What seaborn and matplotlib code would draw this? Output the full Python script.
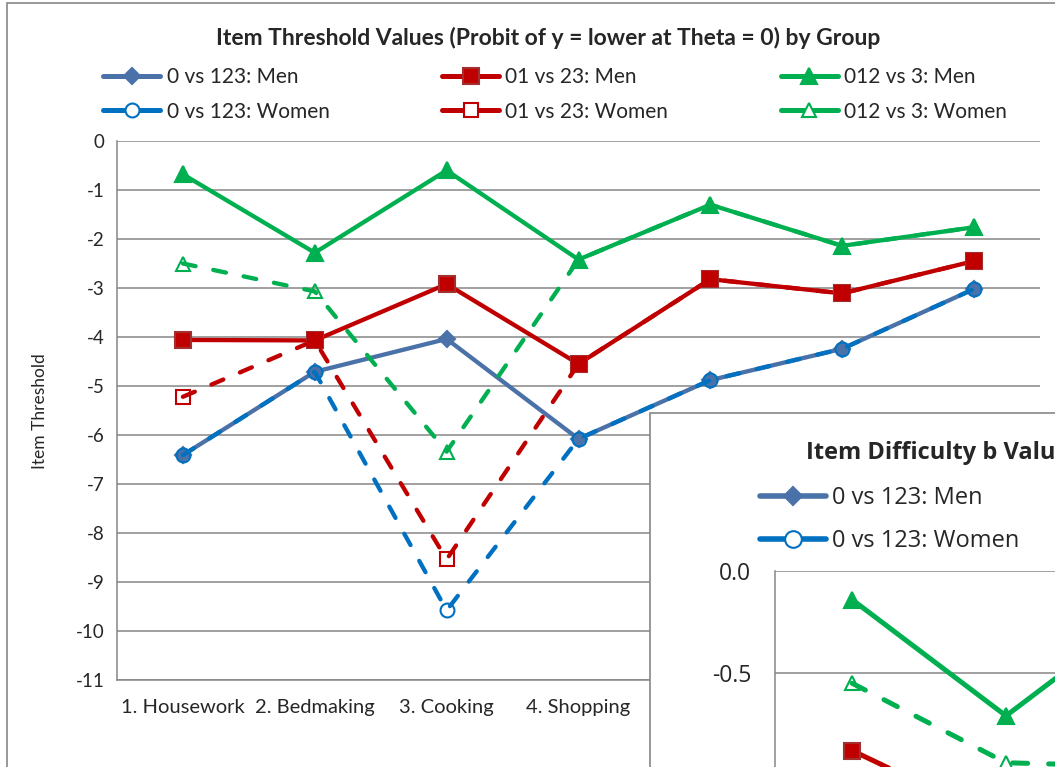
import numpy as np
import pandas as pd
import matplotlib.pyplot as plt
import seaborn as sns
from matplotlib.lines import Line2D
from matplotlib.patches import Rectangle

# Item thresholds (probit of y = lower at theta = 0)
items = ["1. Housework", "2. Bedmaking", "3. Cooking", "4. Shopping", "", "", ""]
men_0_123 = [-6.41, -4.71, -4.04, -6.08, -4.88, -4.24, -3.02]
women_0_123 = [-6.41, -4.71, -9.58, -6.08, -4.88, -4.24, -3.02]
men_01_23 = [-4.06, -4.07, -2.92, -4.55, -2.82, -3.11, -2.45]
women_01_23 = [-5.22, -4.07, -8.54, -4.55, -2.82, -3.11, -2.45]
men_012_3 = [-0.68, -2.28, -0.60, -2.42, -1.30, -2.14, -1.76]
women_012_3 = [-2.50, -3.07, -6.34, -2.42, -1.30, -2.14, -1.76]

# second chart pasted on top (only its top-left corner is visible)
b_men_012_3 = [-0.14, -0.71, -0.14]
b_women_012_3 = [-0.55, -0.94, -0.96]
b_men_01_23 = [-0.88, -1.24]

sns.set_style("white")
plt.rcParams['font.family'] = ['Lato', 'DejaVu Sans']
plt.rcParams['axes.unicode_minus'] = False

GRAY = '#868686'
BLUE_M, BLUE_W = '#4A72A8', '#0070C0'
RED, GREEN = '#C00000', '#00B050'
DASH = (0, (3.0, 4.2))

W, H = 1055, 767
def fx(px):
    return px / W
def fy(py):
    return 1 - py / H

styles = {
    '0 vs 123: Men': dict(color=BLUE_M, marker='D', ms=8, mfc=BLUE_M, mec=BLUE_M, ls='-'),
    '0 vs 123: Women': dict(color=BLUE_W, marker='o', ms=10, mfc='none', mec=BLUE_W, ls=DASH),
    '01 vs 23: Men': dict(color=RED, marker='s', ms=11, mfc=RED, mec='#A33030', ls='-'),
    '01 vs 23: Women': dict(color=RED, marker='s', ms=10, mfc='none', mec=RED, ls=DASH),
    '012 vs 3: Men': dict(color=GREEN, marker='^', ms=11, mfc=GREEN, mec=GREEN, ls='-'),
    '012 vs 3: Women': dict(color=GREEN, marker='^', ms=10, mfc='none', mec=GREEN, ls=DASH),
}
series = {
    '0 vs 123: Men': men_0_123, '01 vs 23: Men': men_01_23, '012 vs 3: Men': men_012_3,
    '0 vs 123: Women': women_0_123, '01 vs 23: Women': women_01_23, '012 vs 3: Women': women_012_3,
}


def draw(ax, vals, st, lw=3.1):
    x = np.arange(len(vals))
    sns.lineplot(x=x, y=vals, ax=ax, color=st['color'], marker=st['marker'],
                 markersize=st['ms'], markerfacecolor=st['mfc'],
                 markeredgecolor=st['mec'], markeredgewidth=1.5,
                 linestyle=st['ls'], linewidth=lw, dash_capstyle='round',
                 errorbar=None, legend=False)


def handle(st, lw=3.6, ms_scale=1.0):
    mfc = 'white' if st['mfc'] == 'none' else st['mfc']
    return Line2D([], [], color=st['color'], marker=st['marker'], ms=st['ms'] * ms_scale,
                  mfc=mfc, mec=st['mec'], mew=1.5, lw=lw, ls='-')


fig = plt.figure(figsize=(10.55, 7.67), dpi=100)

# outer chart border
fig.add_artist(Rectangle((fx(7), fy(3000)), 2, fy(3) - fy(3000), transform=fig.transFigure,
                         facecolor='none', edgecolor=GRAY, lw=1.2, zorder=1))

ax = fig.add_axes([fx(117), fy(680), fx(1040) - fx(117), fy(141) - fy(680)])
for name, vals in series.items():
    draw(ax, vals, styles[name])

ax.set_xlim(-0.5, 6.5)
ax.set_ylim(-11, 0)
ax.set_yticks(range(-11, 1))
ax.set_xticks(range(len(items)))
ax.set_xticklabels(items)
ax.set_xticks(np.arange(-0.5, 7, 1), minor=True)
ax.tick_params(axis='x', which='major', length=0, pad=14, labelsize=14.5)
ax.tick_params(axis='x', which='minor', length=6, color=GRAY, width=1.1, direction='out')
ax.tick_params(axis='y', length=6, color=GRAY, width=1.1, direction='out', pad=3, labelsize=13.5)
ax.yaxis.grid(True, color=GRAY, lw=1.1)
ax.set_axisbelow(True)
for s in ['top', 'right']:
    ax.spines[s].set_visible(False)
for s in ['left', 'bottom']:
    ax.spines[s].set_color(GRAY)
    ax.spines[s].set_linewidth(1.1)
ax.set_xlabel('')
ax.set_ylabel('')

fig.text(fx(40), fy(411), 'Item Threshold', rotation=90, ha='center', va='center', fontsize=12.5)
fig.text(fx(548), fy(38), 'Item Threshold Values (Probit of y = lower at Theta = 0) by Group',
         ha='center', va='center', fontsize=16.5, fontweight='bold')

order = ['0 vs 123: Men', '0 vs 123: Women', '01 vs 23: Men', '01 vs 23: Women',
         '012 vs 3: Men', '012 vs 3: Women']
fig.legend([handle(styles[n]) for n in order], order, ncol=3, frameon=False,
           loc='upper left', bbox_to_anchor=(fx(103), fy(67)), fontsize=15,
           handlelength=2.75, handletextpad=0.3, columnspacing=5.4, labelspacing=0.7,
           borderaxespad=0, borderpad=0)

# inset chart covering the lower right corner
fig.add_artist(Rectangle((fx(650), fy(3000)), 2, fy(413) - fy(3000), transform=fig.transFigure,
                         facecolor='white', edgecolor=GRAY, lw=1.2, zorder=2))
ax2 = fig.add_axes([fx(775), fy(571 + 2 * 204), 7 * 154 / W, 2 * 204 / H], zorder=3)
ax2.set_facecolor('none')
draw(ax2, b_men_012_3, styles['012 vs 3: Men'], lw=3.6)
draw(ax2, b_women_012_3, styles['012 vs 3: Women'], lw=3.6)
draw(ax2, b_men_01_23, styles['01 vs 23: Men'], lw=3.6)
ax2.set_xlim(-0.5, 6.5)
ax2.set_ylim(-2, 0)
ax2.set_yticks([-0.5, 0.0])
ax2.set_yticklabels(['-0.5', '0.0'], family=['Open Sans', 'DejaVu Sans'])
ax2.set_xticks([])
ax2.tick_params(axis='y', length=8, color=GRAY, width=1.1, direction='out', pad=9, labelsize=16.5)
ax2.yaxis.grid(True, color=GRAY, lw=1.1)
ax2.set_axisbelow(True)
for s in ['top', 'right', 'bottom']:
    ax2.spines[s].set_visible(False)
ax2.spines['left'].set_color(GRAY)
ax2.spines['left'].set_linewidth(1.1)
ax2.set_xlabel('')
ax2.set_ylabel('')

# the pasted chart's title runs past the right edge, as in the original screenshot
fig.text(fx(806), fy(453), 'Item Difficulty b Values', ha='left', va='center', fontsize=17,
         fontweight='bold', family=['Open Sans', 'DejaVu Sans'], zorder=6)
inset_names = ['0 vs 123: Men', '0 vs 123: Women']
leg2 = fig.legend([handle(styles[n], lw=4.0, ms_scale=1.2) for n in inset_names], inset_names,
                  ncol=1, frameon=False, loc='upper left', bbox_to_anchor=(fx(760), fy(486)),
                  prop={'family': ['Open Sans', 'DejaVu Sans'], 'size': 17},
                  handlelength=2.8, handletextpad=0.25, labelspacing=0.8,
                  borderaxespad=0, borderpad=0)
leg2.set_zorder(6)

fig.savefig('out.png', dpi=100)
